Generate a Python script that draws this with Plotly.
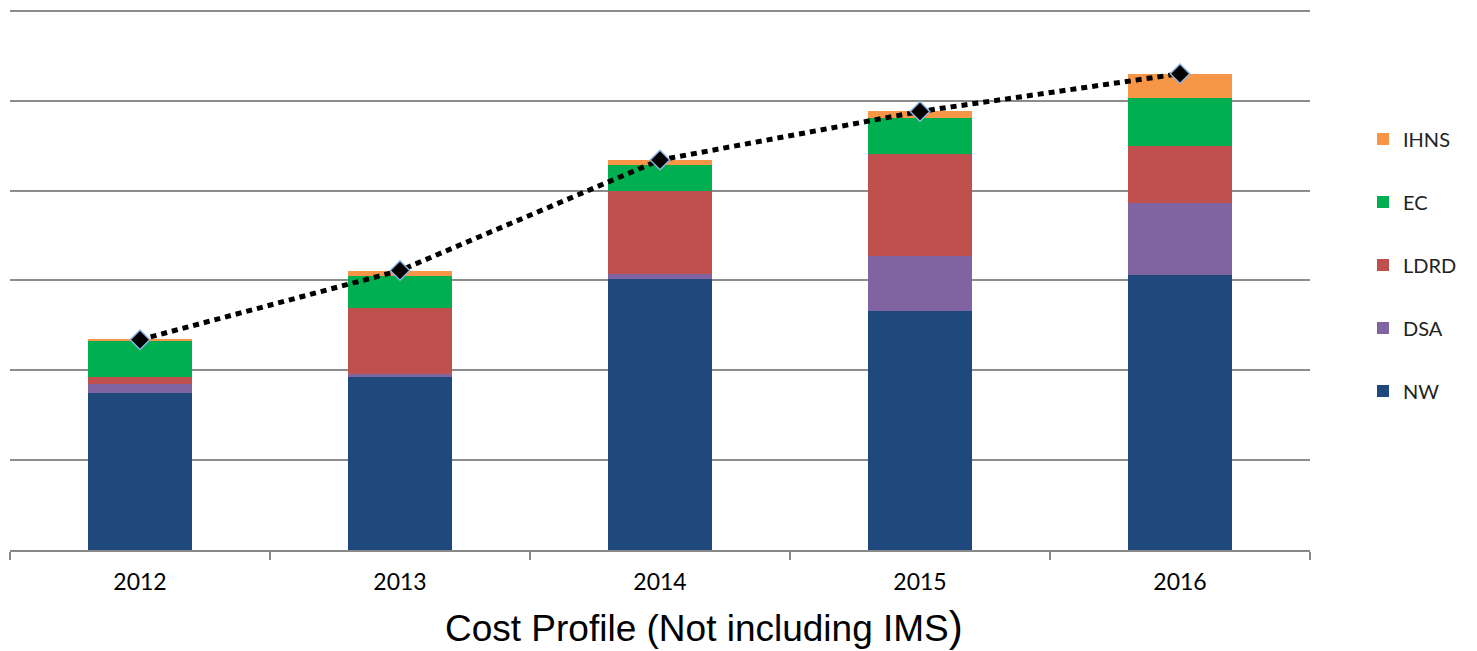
import plotly.graph_objects as go

years = ["2012", "2013", "2014", "2015", "2016"]
nw = [1.75, 1.92, 3.02, 2.66, 3.06]
dsa = [0.10, 0.04, 0.05, 0.61, 0.80]
ldrd = [0.07, 0.73, 0.92, 1.14, 0.64]
ec = [0.41, 0.36, 0.29, 0.40, 0.53]
ihns = [0.01, 0.06, 0.06, 0.07, 0.27]
totals = [round(a + b + c + d + e, 3) for a, b, c, d, e in zip(nw, dsa, ldrd, ec, ihns)]

series = [
    ("NW", nw, "#1F497D"),
    ("DSA", dsa, "#8064A2"),
    ("LDRD", ldrd, "#C0504D"),
    ("EC", ec, "#00B050"),
    ("IHNS", ihns, "#F79646"),
]

fig = go.Figure()
for i, (name, vals, col) in enumerate(series):
    fig.add_trace(go.Bar(
        x=years, y=vals, name=name, marker=dict(color=col, line=dict(width=0)),
        legendgroup=name, legendrank=len(series) - i,
    ))

fig.add_trace(go.Scatter(
    x=years, y=totals, mode="lines+markers", showlegend=False,
    line=dict(color="black", width=5, dash="6px,5px"),
    marker=dict(symbol="diamond", size=15, color="black",
                line=dict(color="#8EB4E3", width=1.5)),
))

fig.update_layout(
    width=1477, height=651,
    margin=dict(l=10, r=167, t=9, b=101),
    barmode="stack", bargap=0.6,
    plot_bgcolor="white", paper_bgcolor="white",
    font=dict(family="Lato, Open Sans, sans-serif", color="black"),
    legend=dict(
        x=(1363 - 10) / 1300, xanchor="left", xref="paper",
        y=(550 - 265) / 541, yanchor="middle",
        traceorder="grouped", tracegroupgap=34,
        font=dict(size=20, color="#222222", family="Lato, Open Sans, sans-serif"),
        itemwidth=30,
    ),
    xaxis=dict(
        type="category", showline=True, linecolor="#888888", linewidth=2,
        ticks="outside", tickson="boundaries", ticklen=8, tickcolor="#888888", tickwidth=2,
        tickfont=dict(size=23, color="black"), showgrid=False, ticklabelstandoff=10,
    ),
    yaxis=dict(
        range=[0, 6.02], dtick=1, showticklabels=False, showgrid=True,
        gridcolor="#8C8C8C", gridwidth=2, zeroline=False, showline=False,
    ),
    annotations=[dict(
        text='Cost Profile (Not including IMS<span style="font-size:42px">)</span>',
        x=(704 - 10) / 1300, xref="paper", xanchor="center",
        y=-(626 - 550) / 541, yref="paper", yanchor="middle", showarrow=False,
        font=dict(family="Liberation Sans, Arial, sans-serif", size=37, color="black"),
    )],
)

fig.write_html("out.html")
